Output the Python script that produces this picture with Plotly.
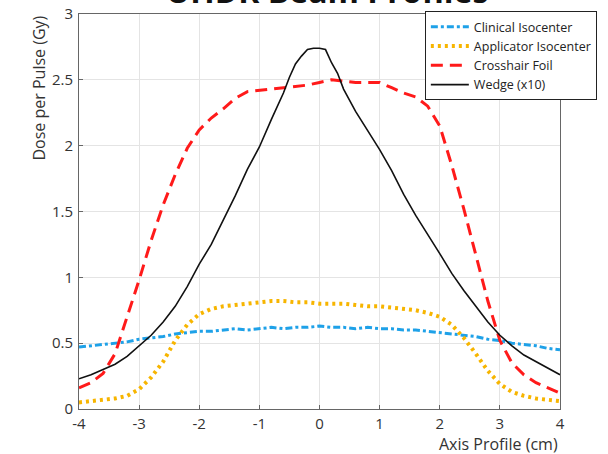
import plotly.graph_objects as go

# ---- data ----
x_grid = [-4.0, -3.8, -3.6, -3.4, -3.2, -3.0, -2.8, -2.6, -2.4, -2.2, -2.0,
          -1.8, -1.6, -1.4, -1.2, -1.0, -0.8, -0.6, -0.4, -0.2, 0.0,
          0.2, 0.4, 0.6, 0.8, 1.0, 1.2, 1.4, 1.6, 1.8, 2.0,
          2.2, 2.4, 2.6, 2.8, 3.0, 3.2, 3.4, 3.6, 3.8, 4.0]

clinical = [0.47, 0.48, 0.49, 0.50, 0.51, 0.53, 0.54, 0.55, 0.57, 0.58, 0.59,
            0.59, 0.60, 0.61, 0.60, 0.61, 0.62, 0.61, 0.62, 0.62, 0.63,
            0.62, 0.62, 0.61, 0.62, 0.61, 0.61, 0.60, 0.60, 0.59, 0.58,
            0.57, 0.56, 0.55, 0.53, 0.52, 0.50, 0.49, 0.48, 0.46, 0.45]

applicator = [0.05, 0.06, 0.07, 0.08, 0.10, 0.15, 0.24, 0.36, 0.52, 0.64, 0.72,
              0.76, 0.78, 0.79, 0.80, 0.81, 0.82, 0.82, 0.81, 0.81, 0.80,
              0.80, 0.80, 0.79, 0.78, 0.78, 0.77, 0.76, 0.75, 0.73, 0.70,
              0.64, 0.54, 0.42, 0.29, 0.19, 0.13, 0.10, 0.08, 0.07, 0.06]

crosshair = [0.16, 0.20, 0.27, 0.42, 0.70, 0.98, 1.28, 1.55, 1.78, 1.98, 2.12,
             2.21, 2.28, 2.36, 2.41, 2.42, 2.43, 2.44, 2.45, 2.46, 2.48,
             2.50, 2.49, 2.48, 2.48, 2.48, 2.44, 2.40, 2.37, 2.30, 2.15,
             1.85, 1.52, 1.17, 0.82, 0.52, 0.35, 0.26, 0.20, 0.16, 0.12]

x_wedge = [-4.0, -3.8, -3.6, -3.4, -3.2, -3.0, -2.8, -2.6, -2.4, -2.2, -2.0,
           -1.8, -1.6, -1.4, -1.2, -1.0, -0.8, -0.6, -0.5, -0.4, -0.3, -0.2,
           -0.1, 0.0, 0.1, 0.2, 0.3, 0.4, 0.6, 0.8, 1.0, 1.2, 1.4, 1.6, 1.8,
           2.0, 2.2, 2.4, 2.6, 2.8, 3.0, 3.2, 3.4, 3.6, 3.8, 4.0]
wedge = [0.23, 0.26, 0.30, 0.34, 0.40, 0.48, 0.56, 0.66, 0.78, 0.93, 1.10,
         1.25, 1.43, 1.62, 1.82, 1.99, 2.20, 2.40, 2.52, 2.62, 2.68, 2.73,
         2.74, 2.74, 2.73, 2.63, 2.55, 2.43, 2.26, 2.12, 1.97, 1.81, 1.63,
         1.47, 1.33, 1.18, 1.03, 0.90, 0.78, 0.66, 0.56, 0.48, 0.41, 0.36,
         0.31, 0.26]

x_ticks = [-4, -3, -2, -1, 0, 1, 2, 3, 4]
y_ticks = [0, 0.5, 1, 1.5, 2, 2.5, 3]
y_tick_labels = ["0", "0.5", "1", "1.5", "2", "2.5", "3"]

FONT = "Open Sans"

fig = go.Figure()
fig.add_trace(go.Scatter(x=x_grid, y=clinical, mode="lines", name="Clinical Isocenter",
                         line=dict(color="#1ea1e8", width=3, dash="7px,3px,3px,3px")))
fig.add_trace(go.Scatter(x=x_grid, y=applicator, mode="lines", name="Applicator Isocenter",
                         line=dict(color="#f7b500", width=4, dash="3px,4px")))
fig.add_trace(go.Scatter(x=x_grid, y=crosshair, mode="lines", name="Crosshair Foil",
                         line=dict(color="#ff1a1a", width=3, dash="12px,7px")))
fig.add_trace(go.Scatter(x=x_wedge, y=wedge, mode="lines", name="Wedge (x10)",
                         line=dict(color="#111111", width=1.6)))

axis_common = dict(showline=True, linecolor="#666666", linewidth=1, mirror=True,
                   ticks="inside", ticklen=4, tickcolor="#666666",
                   showgrid=True, gridcolor="#e4e4e4", gridwidth=1, zeroline=False,
                   automargin=False,
                   tickfont=dict(family=FONT, size=15, color="#333333"))

fig.update_xaxes(range=[-4, 4], tickvals=x_ticks, ticktext=[str(v) for v in x_ticks],
                 ticklabelstandoff=1, **axis_common)
fig.update_yaxes(range=[0, 3], tickvals=y_ticks, ticktext=y_tick_labels,
                 ticklabelstandoff=2, **axis_common)

fig.update_layout(
    width=608, height=454,
    margin=dict(l=79, r=48, t=14, b=45, pad=0, autoexpand=False),
    paper_bgcolor="white", plot_bgcolor="white",
    showlegend=True,
    legend=dict(x=0.719, y=1.007, xanchor="left", yanchor="top",
                bgcolor="white", bordercolor="#222222", borderwidth=1,
                font=dict(family=FONT, size=12.5, color="#222222"),
                tracegroupgap=0, itemwidth=38),
    annotations=[
        dict(text="<b>UHDR Beam Profiles</b>", xref="paper", yref="paper",
             x=0.516, y=1, xanchor="center", yanchor="bottom", yshift=0,
             showarrow=False, font=dict(family=FONT, size=32, color="#111111")),
        dict(text="Axis Profile (cm)", xref="paper", yref="paper",
             x=1, y=0, xanchor="right", yanchor="top", yshift=-22,
             showarrow=False, font=dict(family=FONT, size=16, color="#333333")),
        dict(text="Dose per Pulse (Gy)", xref="paper", yref="paper",
             x=0, y=1, xanchor="center", yanchor="top", xshift=-41, yshift=0,
             textangle=-90, showarrow=False,
             font=dict(family=FONT, size=16, color="#333333")),
    ],
)

fig.write_html("out.html")
